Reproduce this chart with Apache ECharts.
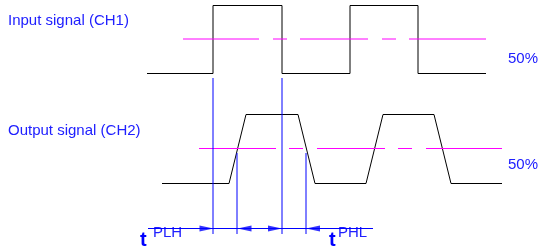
<html>
<head>
  <meta charset="utf-8">
  <title>Propagation delay</title>
  <style>
    html, body { margin: 0; padding: 0; background: #fff; }
    #main { width: 540px; height: 248px; }
  </style>
</head>
<body>
  <div id="main"></div>
</body>
<script src="https://cdn.jsdelivr.net/npm/echarts@6/dist/echarts.min.js"></script>
<script>
  // time / trace position
  let ch1Time  = [147, 213, 213, 282, 282, 350, 350, 418, 418, 486];
  let ch1Level = [73.5, 73.5, 5.5, 5.5, 73.5, 73.5, 5.5, 5.5, 73.5, 73.5];
  let ch2Time  = [162, 229, 246, 298, 315, 366, 383, 434, 451, 502];
  let ch2Level = [183.5, 183.5, 114.5, 114.5, 183.5, 183.5, 114.5, 114.5, 183.5, 183.5];

  // 50% threshold lines (centre-line dashes)
  let ch1Mid = 39;
  let ch1Dashes = [[183, 259], [273, 287], [300, 368], [382, 396], [409, 486]];
  let ch2Mid = 148.5;
  let ch2Dashes = [[199, 276], [289, 303], [317, 385], [398, 412], [426, 502]];

  // delay markers: [time, from, to]
  let markers = [[213, 78, 234], [282, 78, 234], [237, 153, 234], [306, 153, 234]];
  let dimY = 228.5;
  let dimSpan = [148, 373];
  let arrowTips = [[213.5, 'r'], [237.5, 'l'], [282, 'r'], [306, 'l']];

  let blue = '#0000ff';
  let textBlue = '#2020ff';
  let font = 'Liberation Sans, Arial, sans-serif';

  const zip = (a, b) => a.map((v, i) => [v, b[i]]);

  function seg(points, color) {
    return {
      type: 'line', data: points, symbol: 'none', clip: false, silent: true,
      lineStyle: { color: color, width: 1 }
    };
  }

  let series = [
    seg(zip(ch1Time, ch1Level), '#000'),
    seg(zip(ch2Time, ch2Level), '#000')
  ];
  ch1Dashes.forEach(d => series.push(seg([[d[0], ch1Mid], [d[1], ch1Mid]], '#ff00ff')));
  ch2Dashes.forEach(d => series.push(seg([[d[0], ch2Mid], [d[1], ch2Mid]], '#ff00ff')));
  markers.forEach(m => series.push(seg([[m[0], m[1]], [m[0], m[2]]], blue)));
  series.push(seg([[dimSpan[0], dimY], [dimSpan[1], dimY]], blue));
  series.push({
    type: 'scatter', clip: false, silent: true,
    data: arrowTips.map(a => ({
      value: [a[0], dimY],
      symbol: a[1] == 'r' ? 'path://M0,0 L14,3 L0,6 Z' : 'path://M14,0 L0,3 L14,6 Z',
      symbolOffset: a[1] == 'r' ? [-7, 0] : [7, 0]
    })),
    symbolSize: [14, 6],
    itemStyle: { color: blue }
  });

  var myChart = echarts.init(document.getElementById('main'));

  let option = {
    animation: false,
    grid: { left: 0, right: 0, top: 0, bottom: 0 },
    xAxis: { type: 'value', min: 0, max: 540, show: false },
    yAxis: { type: 'value', min: 0, max: 248, inverse: true, show: false },
    series: series,
    graphic: [
      { type: 'text', left: 8, top: 13, style: { text: 'Input signal (CH1)', fill: textBlue, font: '15px ' + font } },
      { type: 'text', left: 8, top: 123, style: { text: 'Output signal (CH2)', fill: textBlue, font: '15px ' + font } },
      { type: 'text', left: 508, top: 51, style: { text: '50%', fill: textBlue, font: '15px ' + font } },
      { type: 'text', left: 508, top: 157, style: { text: '50%', fill: textBlue, font: '15px ' + font } },
      { type: 'text', left: 140, top: 230, style: { text: 't', fill: blue, font: 'bold 20px ' + font } },
      { type: 'text', left: 153, top: 225, style: { text: 'PLH', fill: textBlue, font: '15px ' + font } },
      { type: 'text', left: 329, top: 230, style: { text: 't', fill: blue, font: 'bold 20px ' + font } },
      { type: 'text', left: 338, top: 225, style: { text: 'PHL', fill: textBlue, font: '15px ' + font } }
    ]
  };

  myChart.setOption(option);
</script>
</html>
